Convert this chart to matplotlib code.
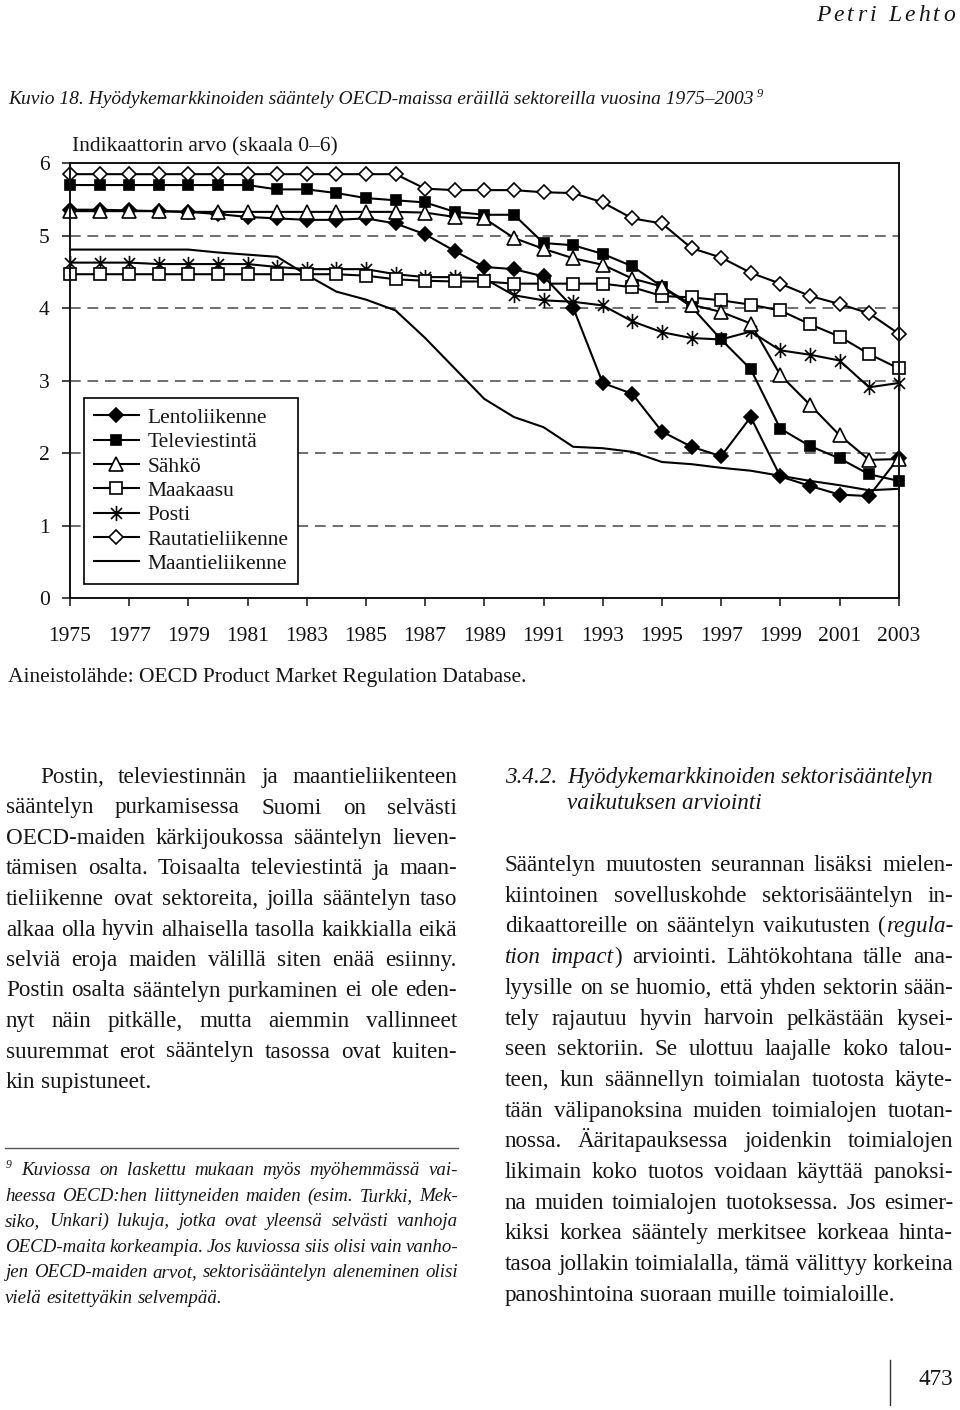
import matplotlib
matplotlib.use("Agg")
import matplotlib.pyplot as plt
from matplotlib.path import Path
from matplotlib.lines import Line2D
from matplotlib.font_manager import FontProperties

plt.rcParams['font.family'] = ['Liberation Serif', 'DejaVu Serif']

# ---------------- data ----------------
years = list(range(1975, 2004))
lentoliikenne = [5.36, 5.36, 5.35, 5.34, 5.33, 5.30, 5.26, 5.24, 5.22, 5.22, 5.24, 5.17, 5.02, 4.79,
                 4.57, 4.54, 4.44, 4.01, 2.97, 2.82, 2.30, 2.09, 1.96, 2.50, 1.68, 1.55, 1.43, 1.41, 1.94]
televiestinta = [5.70, 5.70, 5.70, 5.70, 5.70, 5.70, 5.70, 5.64, 5.64, 5.59, 5.52, 5.49, 5.46, 5.33,
                 5.29, 5.29, 4.90, 4.87, 4.75, 4.58, 4.30, 4.02, 3.57, 3.16, 2.34, 2.10, 1.93, 1.71, 1.62]
sahko = [5.34, 5.34, 5.34, 5.34, 5.33, 5.33, 5.33, 5.33, 5.33, 5.33, 5.33, 5.33, 5.32, 5.26,
         5.24, 4.97, 4.82, 4.69, 4.60, 4.41, 4.30, 4.05, 3.95, 3.79, 3.08, 2.67, 2.25, 1.91, 1.92]
maakaasu = [4.47, 4.47, 4.47, 4.47, 4.47, 4.47, 4.47, 4.47, 4.47, 4.47, 4.45, 4.40, 4.38, 4.37,
            4.37, 4.34, 4.34, 4.34, 4.34, 4.29, 4.17, 4.15, 4.11, 4.05, 3.97, 3.78, 3.61, 3.37, 3.17]
posti = [4.63, 4.63, 4.63, 4.61, 4.61, 4.61, 4.61, 4.57, 4.54, 4.54, 4.54, 4.47, 4.43, 4.43,
         4.41, 4.18, 4.11, 4.09, 4.04, 3.82, 3.67, 3.59, 3.57, 3.68, 3.42, 3.36, 3.28, 2.91, 2.97]
rautatieliikenne = [5.85, 5.85, 5.85, 5.85, 5.85, 5.85, 5.85, 5.85, 5.85, 5.85, 5.85, 5.85, 5.65, 5.63,
                    5.63, 5.63, 5.60, 5.59, 5.46, 5.24, 5.17, 4.83, 4.70, 4.49, 4.34, 4.17, 4.06, 3.93, 3.65]
maantieliikenne = [4.81, 4.81, 4.81, 4.81, 4.81, 4.77, 4.74, 4.71, 4.46, 4.23, 4.12, 3.97, 3.59, 3.17,
                   2.75, 2.50, 2.36, 2.09, 2.07, 2.02, 1.88, 1.85, 1.80, 1.76, 1.69, 1.62, 1.56, 1.49, 1.51]
series_names = ["Lentoliikenne", "Televiestintä", "Sähkö", "Maakaasu", "Posti",
                "Rautatieliikenne", "Maantieliikenne"]
xtick_years = list(range(1975, 2004, 2))
yticks = [0, 1, 2, 3, 4, 5, 6]
gridlines = [1, 2, 3, 4, 5]

header = "Petri Lehto"
caption = "Kuvio 18. Hyödykemarkkinoiden sääntely OECD-maissa eräillä sektoreilla vuosina 1975–2003"
ylabel = "Indikaattorin arvo (skaala 0–6)"
source = "Aineistolähde: OECD Product Market Regulation Database."
left_col = [
    "Postin, televiestinnän ja maantieliikenteen",
    "sääntelyn purkamisessa Suomi on selvästi",
    "OECD-maiden kärkijoukossa sääntelyn lieven-",
    "tämisen osalta. Toisaalta televiestintä ja maan-",
    "tieliikenne ovat sektoreita, joilla sääntelyn taso",
    "alkaa olla hyvin alhaisella tasolla kaikkialla eikä",
    "selviä eroja maiden välillä siten enää esiinny.",
    "Postin osalta sääntelyn purkaminen ei ole eden-",
    "nyt näin pitkälle, mutta aiemmin vallinneet",
    "suuremmat erot sääntelyn tasossa ovat kuiten-",
    "kin supistuneet.",
]
heading_num = "3.4.2."
heading = ["Hyödykemarkkinoiden sektorisääntelyn", "vaikutuksen arviointi"]
right_col = [
    "Sääntelyn muutosten seurannan lisäksi mielen-",
    "kiintoinen sovelluskohde sektorisääntelyn in-",
    "dikaattoreille on sääntelyn vaikutusten (*regula-*",
    "*tion impact*) arviointi. Lähtökohtana tälle ana-",
    "lyysille on se huomio, että yhden sektorin sään-",
    "tely rajautuu hyvin harvoin pelkästään kysei-",
    "seen sektoriin. Se ulottuu laajalle koko talou-",
    "teen, kun säännellyn toimialan tuotosta käyte-",
    "tään välipanoksina muiden toimialojen tuotan-",
    "nossa. Ääritapauksessa joidenkin toimialojen",
    "likimain koko tuotos voidaan käyttää panoksi-",
    "na muiden toimialojen tuotoksessa. Jos esimer-",
    "kiksi korkea sääntely merkitsee korkeaa hinta-",
    "tasoa jollakin toimialalla, tämä välittyy korkeina",
    "panoshintoina suoraan muille toimialoille.",
]
footnote = [
    "Kuviossa on laskettu mukaan myös myöhemmässä vai-",
    "heessa OECD:hen liittyneiden maiden (esim. Turkki, Mek-",
    "siko, Unkari) lukuja, jotka ovat yleensä selvästi vanhoja",
    "OECD-maita korkeampia. Jos kuviossa siis olisi vain vanho-",
    "jen OECD-maiden arvot, sektorisääntelyn aleneminen olisi",
    "vielä esitettyäkin selvempää.",
]
page_number = "473"

# ---------------- figure ----------------
W, H = 960, 1410
fig = plt.figure(figsize=(W / 100, H / 100), dpi=100)
fig.patch.set_facecolor('white')
TXT = '#161616'
FAM = 'Liberation Serif'
renderer = fig.canvas.get_renderer()


def fx(x):
    return x / W


def fy(y):
    return 1 - y / H


def measure(s, size, italic=False):
    fp = FontProperties(family=FAM, size=size, style='italic' if italic else 'normal')
    w, h, d = renderer.get_text_width_height_descent(s, fp, ismath=False)
    return w


def put(x, y, s, size, italic=False, color=TXT, ha='left'):
    fig.text(fx(x), fy(y), s, fontsize=size, style='italic' if italic else 'normal',
             ha=ha, va='baseline', color=color, family=FAM)


def parse(line, italic0=False):
    state = italic0
    words = []
    for w in line.split(' '):
        segs, buf = [], ''
        for ch in w:
            if ch == '*':
                if buf:
                    segs.append((buf, state))
                    buf = ''
                state = not state
            else:
                buf += ch
        if buf:
            segs.append((buf, state))
        words.append(segs)
    return words


def space_w(size, italic=False):
    return measure('a a', size, italic) - measure('aa', size, italic)


def natural_width(line, size, italic0=False, sp_factor=1.0):
    words = parse(line, italic0)
    tot = sum(measure(t, size, it) for wd in words for t, it in wd)
    return tot + (len(words) - 1) * space_w(size, italic0) * sp_factor


def fit_size(lines, x0s, x1, italic0=False, last_free=True, sp_factor=1.0):
    best = 100.0
    n = len(lines)
    for i, (ln, x0) in enumerate(zip(lines, x0s)):
        if last_free and i == n - 1:
            continue
        nw = natural_width(ln, 10, italic0, sp_factor)
        best = min(best, 10 * (x1 - x0) / nw)
    return best * 0.995


def draw_line(line, x0, x1, y, size, justify, italic0=False):
    words = parse(line, italic0)
    widths = [sum(measure(t, size, it) for t, it in wd) for wd in words]
    if justify and len(words) > 1:
        gap = (x1 - x0 - sum(widths)) / (len(words) - 1)
    else:
        gap = space_w(size, italic0)
    x = x0
    for wd, wdt in zip(words, widths):
        xx = x
        for t, it in wd:
            put(xx, y, t, size, it)
            xx += measure(t, size, it)
        x += wdt + gap


# ---------------- chart ----------------
X0, X1, Y0, Y1 = 70, 898.7, 598.3, 163.3
ax = fig.add_axes([fx(X0), fy(Y0), (X1 - X0) / W, (Y0 - Y1) / H])
ax.set_xlim(1975, 2003)
ax.set_ylim(0, 6)
for g in gridlines:
    ax.axhline(g, color='#6e6e6e', lw=1.4, ls=(0, (5.5, 3.5)), zorder=1)

star = Path([(0, -1), (0, 1), (-0.72, -0.72), (0.72, 0.72), (-0.72, 0.72), (0.72, -0.72)],
            [Path.MOVETO, Path.LINETO] * 3)
styles = [
    dict(marker='D', ms=7.5, mfc='black'),
    dict(marker='s', ms=7.5, mfc='black'),
    dict(marker='^', ms=9.5, mfc='white'),
    dict(marker='s', ms=8, mfc='white'),
    dict(marker=star, ms=11, mfc='none'),
    dict(marker='D', ms=7.5, mfc='white'),
    dict(marker='None'),
]
data = [lentoliikenne, televiestinta, sahko, maakaasu, posti, rautatieliikenne, maantieliikenne]
zorders = [6, 5, 7, 4, 3, 8, 2]
for vals, st, z in zip(data, styles, zorders):
    ax.plot(years, vals, color='black', lw=1.5, mec='black', mew=1.2, clip_on=False,
            zorder=z, **st)

ax.set_xticks(xtick_years)
ax.set_xticklabels([str(y) for y in xtick_years])
ax.set_yticks(yticks)
ax.set_yticklabels([str(v) for v in yticks])
ax.tick_params(axis='both', direction='out', length=5.5, width=1.1, labelsize=15.5,
               colors='#111111')
ax.tick_params(axis='x', pad=15)
ax.tick_params(axis='y', pad=9)
for sp in ax.spines.values():
    sp.set_linewidth(1.4)
    sp.set_color('#111111')
    sp.set_zorder(9)

handles = [Line2D([], [], color='black', lw=1.5, mec='black', mew=1.2, **st) for st in styles]
leg = ax.legend(handles, series_names, loc='upper left',
                bbox_to_anchor=((84 - X0) / (X1 - X0), (Y0 - 398) / (Y0 - Y1)),
                borderaxespad=0, frameon=True, fancybox=False, edgecolor='black',
                fontsize=15.5, handlelength=2.1, handletextpad=0.4, labelspacing=0.2,
                borderpad=0.45, framealpha=1)
leg.get_frame().set_linewidth(1.2)
leg.set_zorder(10)
for t in leg.get_texts():
    t.set_color(TXT)

# ---------------- page texts ----------------
# header with letter spacing
hs = 17
xr = 955
chars = list(header)
wids = [measure(c, hs, True) if c != ' ' else space_w(hs, True) for c in chars]
track = 3.2
total = sum(wids) + track * (len(chars) - 1)
x = xr - total
for c, w in zip(chars, wids):
    if c != ' ':
        put(x, 21, c, hs, True)
    x += w + track

csize = 14
put(8, 104, caption, csize, True)
cw = measure(caption, csize, True)
put(8 + cw + 3, 97, "9", 9, True)

put(72, 151, ylabel, 15.5)
put(8, 682, source, 15.5)

# body columns
lx0, lx1 = 6, 457
rx0, rx1 = 505, 953
lsize = fit_size(left_col, [40] + [lx0] * (len(left_col) - 1), lx1, sp_factor=0.85)
rsize = fit_size(right_col, [rx0] * len(right_col), rx1, sp_factor=0.85)
bsize = min(lsize, rsize, 17.5)

for i, ln in enumerate(left_col):
    x0 = 40 if i == 0 else lx0
    draw_line(ln, x0, lx1, 783 + i * 30.5, bsize, justify=(i < len(left_col) - 1))

put(rx0, 783, heading_num, bsize, True)
put(567, 783, heading[0], bsize, True)
put(567, 809, heading[1], bsize, True)

for i, ln in enumerate(right_col):
    draw_line(ln, rx0, rx1, 871 + i * 30.7, bsize, justify=(i < len(right_col) - 1))

# footnote
fig.add_artist(Line2D([fx(5), fx(458)], [fy(1148), fy(1148)], color='#555555', lw=1.0))
fx0s = [21] + [5] * (len(footnote) - 1)
fsize = min(fit_size(footnote, fx0s, 458, italic0=True, sp_factor=0.7), 15)
put(6, 1168, "9", fsize * 0.62, True)
for i, ln in enumerate(footnote):
    draw_line(ln, fx0s[i], 458, 1175 + i * 25.6, fsize, justify=(i < len(footnote) - 1),
              italic0=True)

# page number and rule
fig.add_artist(Line2D([fx(890), fx(890)], [fy(1360), fy(1405)], color='#333333', lw=1.0))
put(953, 1385, page_number, bsize, ha='right')

fig.savefig("out.png", dpi=100, facecolor='white')
